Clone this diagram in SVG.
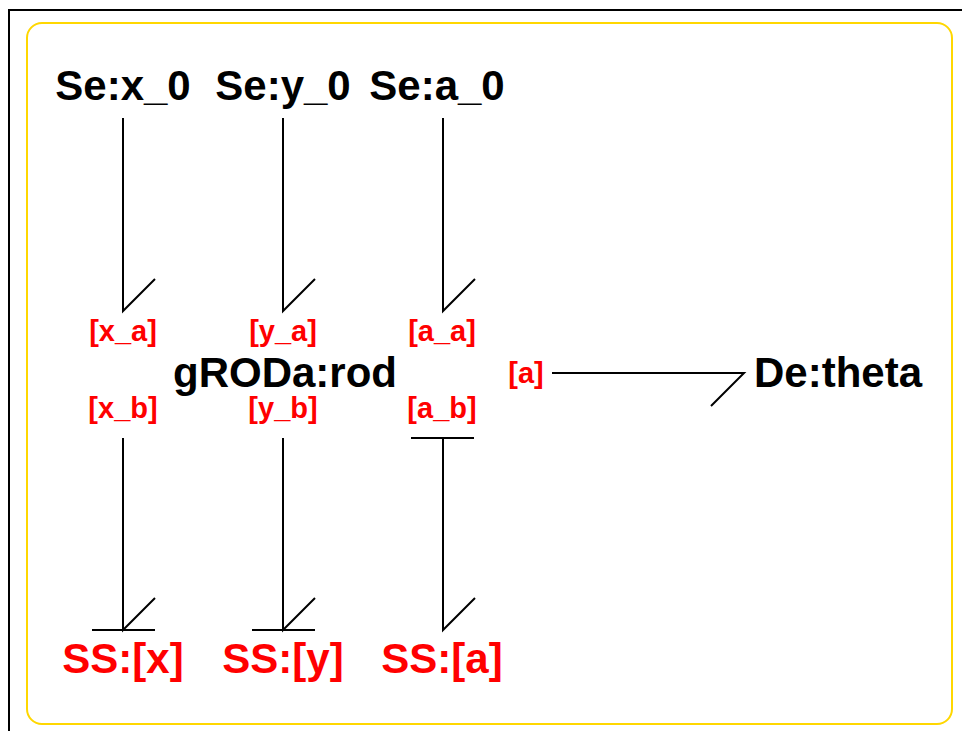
<svg xmlns="http://www.w3.org/2000/svg" width="962" height="731" viewBox="0 0 962 731">
<style>
.big{font-family:"Liberation Sans",Arial,sans-serif;font-weight:bold;font-size:42px;text-anchor:middle}
.port{font-family:"Liberation Sans",Arial,sans-serif;font-weight:bold;font-size:29px;fill:#ff0000;text-anchor:middle}
.red{fill:#ff0000}
.ln{stroke:#000;stroke-width:2;fill:none}
</style>
<rect width="962" height="731" fill="#fff"/>
<path d="M9 731 V10 H962" fill="none" stroke="#000" stroke-width="2"/>
<rect x="27" y="23" width="925" height="701" rx="15" fill="none" stroke="#ffd700" stroke-width="2"/>
<g id="se_x0"><text class="big" x="123" y="100">Se:x_0</text></g>
<g id="se_y0"><text class="big" x="283" y="100">Se:y_0</text></g>
<g id="se_a0"><text class="big" x="437" y="100">Se:a_0</text></g>
<g id="groda_rod">
<text class="big" x="285" y="387">gRODa:rod</text>
<text class="port" x="123" y="341">[x_a]</text>
<text class="port" x="283" y="341">[y_a]</text>
<text class="port" x="442" y="341">[a_a]</text>
<text class="port" x="123" y="418">[x_b]</text>
<text class="port" x="283" y="418">[y_b]</text>
<text class="port" x="442" y="418">[a_b]</text>
<text class="port" x="526" y="383">[a]</text>
</g>
<g id="de_theta"><text class="big" x="838" y="387">De:theta</text></g>
<g id="ss_x"><text class="big red" x="123" y="673">SS:[x]</text></g>
<g id="ss_y"><text class="big red" x="283" y="673">SS:[y]</text></g>
<g id="ss_a"><text class="big red" x="442" y="673">SS:[a]</text></g>
<g id="connectors" class="ln">
<path d="M123 118 V311 L155 279"/>
<path d="M283 118 V311 L315 279"/>
<path d="M443 118 V311 L475 279"/>
<path d="M123 438 V630 L155 598 M92 630 H155"/>
<path d="M283 438 V630 L315 598 M252 630 H315"/>
<path d="M411 438 H474 M443 438 V630 L475 598"/>
<path d="M552 373 H744 L711 406"/>
</g>
</svg>
